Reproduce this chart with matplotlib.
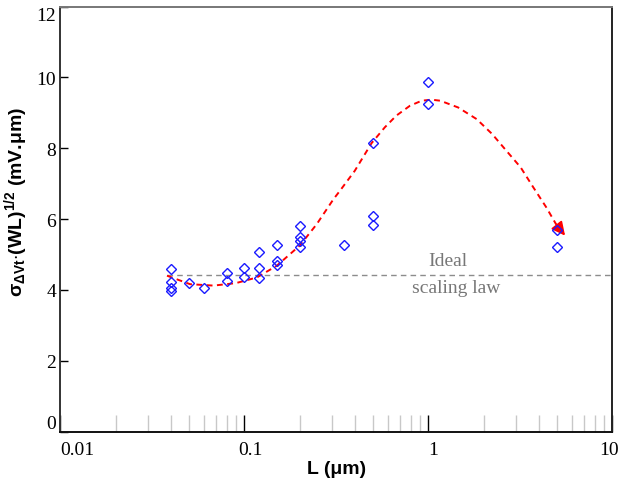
import numpy as np
import matplotlib
matplotlib.use("Agg")
import matplotlib.pyplot as plt
import matplotlib.transforms as mtransforms
from matplotlib.ticker import FixedLocator, FixedFormatter

plt.rcParams['mathtext.fontset'] = 'custom'
plt.rcParams['mathtext.rm'] = 'Liberation Sans:bold'
plt.rcParams['mathtext.it'] = 'Liberation Sans:bold'
plt.rcParams['mathtext.bf'] = 'Liberation Sans:bold'

# measured points: channel length (um) and sigma*sqrt(WL)
L_um = [0.04, 0.04, 0.04, 0.04, 0.05, 0.06, 0.08, 0.08, 0.1, 0.1,
        0.12, 0.12, 0.12, 0.15, 0.15, 0.15, 0.2, 0.2, 0.2, 0.2,
        0.35, 0.5, 0.5, 0.5, 1.0, 1.0, 5.0, 5.0]
sigma = [4.59, 4.23, 4.05, 3.98, 4.19, 4.06, 4.47, 4.24, 4.63, 4.37,
         5.06, 4.62, 4.33, 5.27, 4.81, 4.69, 5.81, 5.50, 5.38, 5.21,
         5.26, 8.14, 6.09, 5.84, 9.88, 9.24, 5.70, 5.20]

# hand drawn trend (red dashed arrow)
trend_x = [0.038, 0.0507, 0.068, 0.09, 0.117, 0.15, 0.2, 0.247, 0.305, 0.331,
           0.398, 0.491, 0.58, 0.67, 0.795, 0.92, 1.04, 1.16, 1.45, 1.83,
           2.22, 2.65, 3.17, 3.72, 4.37, 4.93]
trend_y = [4.40, 4.16, 4.12, 4.19, 4.35, 4.68, 5.25, 5.85, 6.56, 6.80,
           7.36, 8.14, 8.59, 8.92, 9.20, 9.34, 9.37, 9.34, 9.15, 8.82,
           8.40, 7.93, 7.46, 6.89, 6.33, 5.86]
arrow_tip = (5.53, 5.53)

# ideal scaling law level
ideal_level = 4.42
ideal_start = 0.038

fig = plt.figure(figsize=(6.19, 4.81), dpi=100)
ax = fig.add_axes([0.0974, 0.1008, 0.892, 0.8836])

ax.plot(trend_x, trend_y, color='red', lw=1.4, dashes=(3, 2.3), zorder=3)
ax.annotate('', xy=arrow_tip, xytext=(trend_x[-1], trend_y[-1]),
            arrowprops=dict(arrowstyle='-|>', color='red', lw=1.4,
                            mutation_scale=20, shrinkA=0, shrinkB=0),
            zorder=3)

ax.plot([ideal_start, 10], [ideal_level, ideal_level], color='#8c8c8c',
        lw=1.0, dashes=(4, 3), zorder=2)

ax.plot(L_um, sigma, ls='none', marker='D', ms=5.2, mfc='none',
        mec='#1a1aff', mew=1.0, zorder=4)

ax.text(1.28, 4.84, 'Ideal', color='#777777', fontsize=14,
        family='Liberation Serif', ha='center', va='center')
ax.text(1.42, 4.08, 'scaling law', color='#777777', fontsize=14,
        family='Liberation Serif', ha='center', va='center')

ax.set_xscale('log')
ax.set_xlim(0.01, 10)
ax.set_ylim(0, 12)

majors = [0.01, 0.1, 1, 10]
ax.xaxis.set_major_locator(FixedLocator(majors))
ax.xaxis.set_major_formatter(FixedFormatter(['0.01', '0.1', '1', '10']))
minors = [m * d for d in [0.01, 0.1, 1] for m in range(2, 10)]
ax.xaxis.set_minor_locator(FixedLocator(minors))
ax.xaxis.set_minor_formatter(FixedFormatter([''] * len(minors)))
ax.tick_params(axis='x', which='major', direction='in', length=12, width=1,
               color='black', pad=7, labelsize=14)
ax.tick_params(axis='x', which='minor', direction='in', length=12, width=1,
               color='#c8c8c8')
ax.set_yticks(range(0, 13, 2))
ax.tick_params(axis='y', direction='in', length=6, width=1, color='black',
               pad=3, labelsize=14)
for lab in ax.get_xticklabels() + ax.get_yticklabels():
    lab.set_family('Liberation Serif')

# shift a few tick labels the way the original is laid out
xshift = [17, 6, 5, -3]
for lab, dx in zip(ax.get_xticklabels(), xshift):
    lab.set_transform(lab.get_transform() +
                      mtransforms.ScaledTranslation(dx / 100, 0, fig.dpi_scale_trans))
ylabs = ax.get_yticklabels()
ylabs[0].set_va('bottom')
ylabs[-1].set_va('top')

ax.spines['left'].set_color('#333333')
ax.spines['top'].set_color('#777777')
ax.spines['right'].set_color('#222222')
ax.spines['bottom'].set_color('#111111')
for s in ax.spines.values():
    s.set_linewidth(1.4)

ax.set_xlabel('L (μm)', fontsize=14, fontweight='bold',
              family='Liberation Sans', labelpad=1)
ax.set_ylabel(r'$\sigma_{\Delta Vt}$$\cdot$(WL)$^{1/2}$ (mV.$\mu$m)', fontsize=14,
              fontweight='bold', family='Liberation Sans')
ax.yaxis.set_label_coords(-0.055, 0.542)

fig.savefig('out.png', dpi=100)
